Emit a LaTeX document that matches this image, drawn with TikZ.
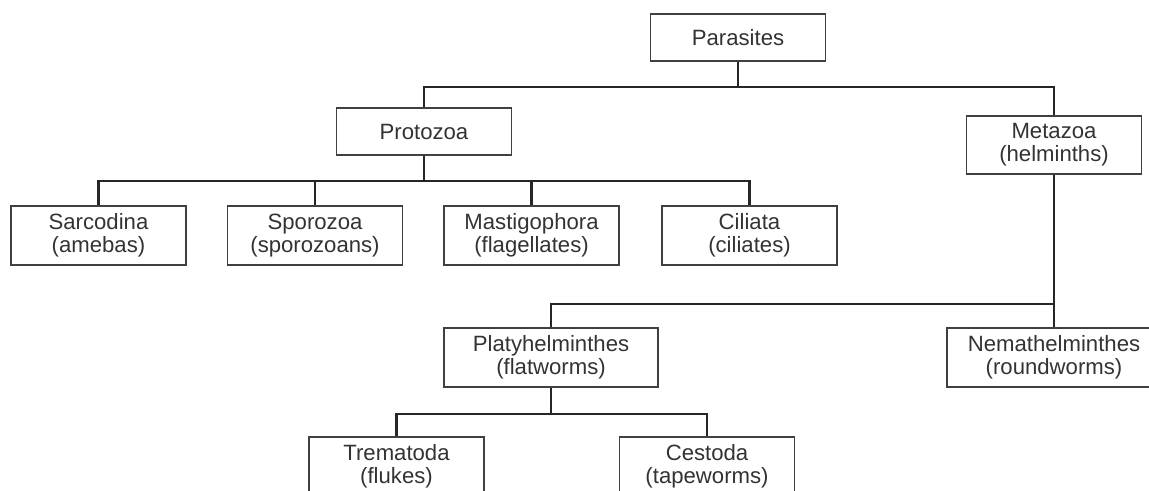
\documentclass[tikz,border=0pt]{standalone}
\usepackage{fontspec}
\setmainfont{Liberation Sans}
\tikzset{
	taxon/.style = {
		draw=black!75, line width=0.6pt, fill=white,
		align=center, inner sep=0pt, text=black!80,
		minimum width=3.5cm, minimum height=1.18cm,
		font=\fontsize{12.6}{13}\selectfont
	},
	wide/.style = {minimum width=4.28cm},
	branch/.style = {line width=1.4pt, black!85},
}
\begin{document}
\begin{tikzpicture}
	\useasboundingbox (0, 0) rectangle (22.98, -9.8);
	% top levels
	\node [taxon, minimum height=0.94cm] (parasites) at (14.76, -0.75) {Parasites};
	\node [taxon, minimum height=0.94cm] (protozoa) at (8.48, -2.63) {Protozoa};
	\node [taxon, minimum height=1.16cm] (metazoa) at (21.08, -2.90) {Metazoa\\(helminths)};
	% protozoa classes
	\node [taxon] (sarcodina) at (1.97, -4.71) {Sarcodina\\(amebas)};
	\node [taxon] (sporozoa) at (6.30, -4.71) {Sporozoa\\(sporozoans)};
	\node [taxon] (mastigophora) at (10.63, -4.71) {Mastigophora\\(flagellates)};
	\node [taxon] (ciliata) at (14.99, -4.71) {Ciliata\\(ciliates)};
	% helminths
	\node [taxon, wide] (platy) at (11.02, -7.15) {Platyhelminthes\\(flatworms)};
	\node [taxon, wide] (nemat) at (21.08, -7.15) {Nemathelminthes\\(roundworms)};
	\node [taxon] (trematoda) at (7.93, -9.33) {Trematoda\\(flukes)};
	\node [taxon] (cestoda) at (14.14, -9.33) {Cestoda\\(tapeworms)};
	% bus levels
	\coordinate (bus0) at (0, -1.74);
	\coordinate (bus1) at (0, -3.62);
	\coordinate (bus2) at (0, -6.08);
	\coordinate (bus3) at (0, -8.28);
	\draw [branch] (parasites.south) -- (parasites.south |- bus0) -| (protozoa.north);
	\draw [branch] (parasites.south |- bus0) -| (metazoa.north);
	\foreach \n in {sarcodina, sporozoa, mastigophora, ciliata}
	{
		\draw [branch] (protozoa.south) -- (protozoa.south |- bus1) -| (\n.north);
	}
	\foreach \n in {platy, nemat}
	{
		\draw [branch] (metazoa.south) -- (metazoa.south |- bus2) -| (\n.north);
	}
	\foreach \n in {trematoda, cestoda}
	{
		\draw [branch] (platy.south) -- (platy.south |- bus3) -| (\n.north);
	}
\end{tikzpicture}
\end{document}
